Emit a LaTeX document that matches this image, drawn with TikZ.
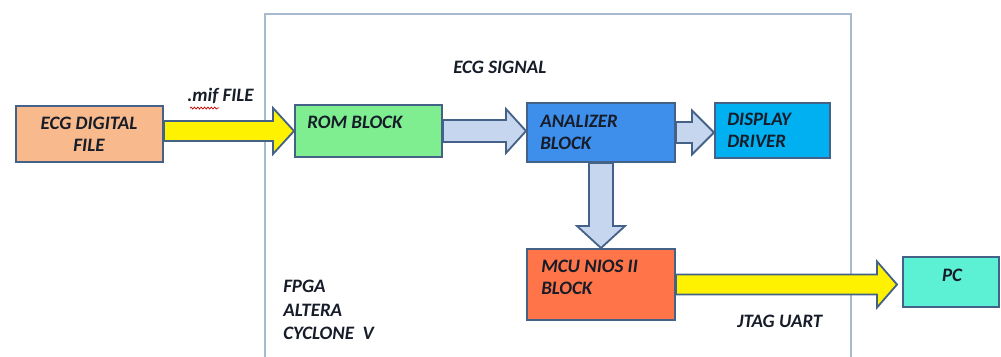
\documentclass[tikz,border=0pt]{standalone}
\usepackage{fontspec}
\setmainfont{Carlito}
\usepackage{tikz}
\usetikzlibrary{calc}
\usetikzlibrary{fit}
\usetikzlibrary{decorations.pathmorphing}

\definecolor{ecgorange}{RGB}{248,186,140}
\definecolor{romgreen}{RGB}{126,238,144}
\definecolor{anablue}{RGB}{62,142,236}
\definecolor{dispcyan}{RGB}{0,176,240}
\definecolor{mcured}{RGB}{255,116,72}
\definecolor{pcteal}{RGB}{92,240,212}
\definecolor{edgeblue}{RGB}{68,98,136}
\definecolor{framegray}{RGB}{166,186,208}
\definecolor{busblue}{RGB}{198,214,238}
\definecolor{inkdark}{RGB}{22,28,40}

\tikzset{
block/.style={draw=edgeblue, line width=1.4pt, inner sep=0pt},
blocktext/.style={font=\fontsize{13.5}{15.6}\selectfont\bfseries\itshape, text=inkdark, inner sep=0pt, align=left},
yellow bus/.style={draw=edgeblue, fill=yellow, line width=1.3pt},
blue bus/.style={draw=edgeblue, fill=busblue, line width=1.3pt}
}

% fat arrow to the right: style, tail, tip, half shaft, half head, head length
\newcommand{\fatarrowh}[6]{%
  \draw[#1] ($#2+(0,-#4)$) -- ($#3+(-#6,-#4)$) -- ($#3+(-#6,-#5)$) -- #3
    -- ($#3+(-#6,#5)$) -- ($#3+(-#6,#4)$) -- ($#2+(0,#4)$) -- cycle;}
% same, pointing down
\newcommand{\fatarrowv}[6]{%
  \draw[#1] ($#2+(-#4,0)$) -- ($#3+(-#4,-#6)$) -- ($#3+(-#5,-#6)$) -- #3
    -- ($#3+(#5,-#6)$) -- ($#3+(#4,-#6)$) -- ($#2+(#4,0)$) -- cycle;}

\begin{document}
\begin{tikzpicture}[x=0.025cm, y=-0.025cm]

                \useasboundingbox (0,0) rectangle (1001,356);

                %board outline, open at the bottom
                \draw[framegray, line width=1.1pt] (265,362) |- (851,14) -- (851,362);

                %blocks, corners in px
                \node[block, fill=ecgorange, fit={(16,106) (163,162)}] (ecg) {};
                \node[block, fill=romgreen, fit={(295,105) (442,157)}] (rom) {};
                \node[block, fill=anablue, fit={(527,103) (675,162)}] (ana) {};
                \node[block, fill=dispcyan, fit={(715,103) (830,158)}] (disp) {};
                \node[block, fill=mcured, fit={(527,249) (675,320)}] (mcu) {};
                \node[block, fill=pcteal, fit={(903,257) (999,307)}] (pc) {};

                \coordinate (pcin) at ($(pc.west |- mcu.east)+(-5,0)$);

                %buses
                \fatarrowh{yellow bus}{(ecg.east |- rom.west)}{(rom.west)}{10}{23}{21}
                \fatarrowh{blue bus}{(rom.east)}{(ana.west |- rom.east)}{11}{22}{20}
                \fatarrowh{blue bus}{(ana.east)}{(disp.west |- ana.east)}{10.5}{22}{22}
                \fatarrowv{blue bus}{(ana.south)}{(mcu.north)}{12}{24}{22}
                \fatarrowh{yellow bus}{(mcu.east)}{(pcin)}{10}{23}{20}

                %texts
                \node[blocktext, align=center] (ecgtxt) at (89,134) {ECG DIGITAL\\FILE};
                \node[blocktext, anchor=west] (romtxt) at (307,122) {ROM BLOCK};
                \node[blocktext, anchor=west] (anatxt) at (540,132) {ANALIZER\\BLOCK};
                \node[blocktext, anchor=west] (disptxt) at (727,130.5) {DISPLAY\\DRIVER};
                \node[blocktext, anchor=west] (mcutxt) at (541,277.5) {MCU NIOS II\\BLOCK};
                \node[blocktext] (pctxt) at (952,275) {PC};
                \node[blocktext, anchor=west] (sigtxt) at (453,67) {ECG SIGNAL};
                \node[blocktext, anchor=west] (miftxt) at (187,96) {.mif FILE};
                \node[blocktext, anchor=west] (jtagtxt) at (737,321) {JTAG UART};
                \node[blocktext, anchor=west, font=\fontsize{13.5}{16.8}\selectfont\bfseries\itshape] (fpgatxt) at (283,310) {FPGA\\ALTERA\\CYCLONE\ \ V};

                %spell-check squiggle under mif
                \draw[red!80!black, line width=0.5pt, decorate, decoration={snake, amplitude=0.7pt, segment length=2.4pt}] ($(miftxt.south west)+(3,4)$) -- ($(miftxt.south west)+(32,4)$);

\end{tikzpicture}
\end{document}
